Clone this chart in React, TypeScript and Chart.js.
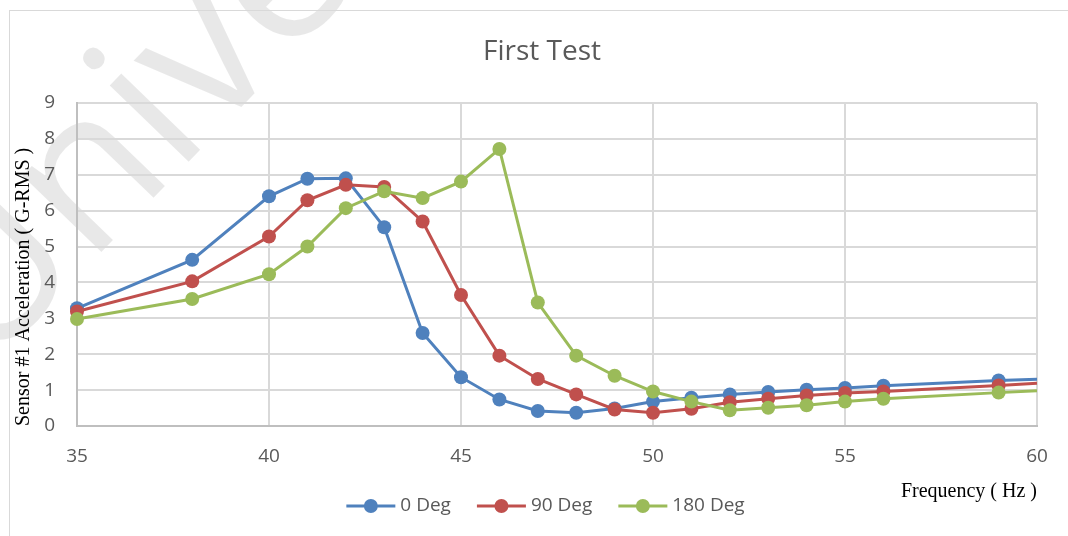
import React, { useEffect, useRef } from 'react';
import { Chart, registerables } from 'chart.js';

Chart.register(...registerables);

// Frequency sweep points (Hz)
const frequencies = [35, 38, 40, 41, 42, 43, 44, 45, 46, 47, 48, 49, 50, 51, 52, 53, 54, 55, 56, 59, 60];

// Sensor #1 acceleration (G-RMS) per mounting angle
const deg0 = [3.28, 4.63, 6.40, 6.89, 6.90, 5.54, 2.59, 1.36, 0.74, 0.42, 0.37, 0.49, 0.68, 0.79, 0.88, 0.95, 1.01, 1.06, 1.12, 1.27, 1.30];
const deg90 = [3.19, 4.03, 5.28, 6.29, 6.72, 6.66, 5.70, 3.65, 1.96, 1.31, 0.88, 0.46, 0.37, 0.48, 0.66, 0.76, 0.85, 0.92, 0.96, 1.13, 1.19];
const deg180 = [2.98, 3.54, 4.23, 5.00, 6.07, 6.54, 6.35, 6.81, 7.72, 3.44, 1.96, 1.40, 0.96, 0.68, 0.44, 0.51, 0.58, 0.68, 0.76, 0.93, 0.98];

const seriesNames = ['0 Deg', '90 Deg', '180 Deg'];
const seriesColors = ['#4f81bd', '#c0504d', '#9bbb59'];

const chartTitle = 'First Test';
const xAxisTitle = 'Frequency ( Hz )';
const yAxisTitle = 'Sensor #1 Acceleration ( G-RMS )';
const watermarkText = 'University';

const xMin = 35;
const xMax = 60;
const xStep = 5;
const yMin = 0;
const yMax = 9;
const yStep = 1;

const W = 1068;
const H = 536;
const GREY_TEXT = '#595959';
const SANS = '"Open Sans", "Noto Sans", sans-serif';
const SERIF = '"Liberation Serif", "DejaVu Serif", serif';

const decorations = {
  id: 'decorations',
  beforeDraw(chart: any) {
    const { ctx } = chart;
    ctx.save();
    ctx.fillStyle = '#ffffff';
    ctx.fillRect(0, 0, W, H);

    // faint diagonal watermark
    const F = 205;
    ctx.font = `${F}px ${SANS}`;
    const lead = ctx.measureText('Un').width + 0.13 * F;
    const th = (-46 * Math.PI) / 180;
    const ox = 195 - Math.cos(th) * lead;
    const oy = 155 - Math.sin(th) * lead;
    ctx.translate(ox, oy);
    ctx.rotate(th);
    ctx.fillStyle = 'rgba(0,0,0,0.09)';
    ctx.textBaseline = 'alphabetic';
    ctx.fillText(watermarkText, 0, 0);
    ctx.restore();

    // outer chart frame
    ctx.save();
    ctx.strokeStyle = '#d9d9d9';
    ctx.lineWidth = 1;
    ctx.strokeRect(9.5, 10.5, W + 20, H + 20);
    ctx.restore();
  },
  afterDraw(chart: any) {
    const { ctx } = chart;
    ctx.save();
    // title
    ctx.fillStyle = GREY_TEXT;
    ctx.font = `28px ${SANS}`;
    ctx.textAlign = 'center';
    ctx.textBaseline = 'middle';
    ctx.fillText(chartTitle, 542, 52);

    // legend: line + marker, then label
    const lineLen = 49;
    const gapText = 5;
    const gapItem = 26;
    ctx.font = `19px ${SANS}`;
    const ds = chart.data.datasets;
    const widths = ds.map((d: any) => lineLen + gapText + ctx.measureText(d.label).width);
    const total = widths.reduce((a: number, b: number) => a + b, 0) + gapItem * (ds.length - 1);
    let x = 545.5 - total / 2;
    const y = 506;
    ds.forEach((d: any, i: number) => {
      ctx.strokeStyle = d.borderColor;
      ctx.lineWidth = 3;
      ctx.beginPath();
      ctx.moveTo(x, y);
      ctx.lineTo(x + lineLen, y);
      ctx.stroke();
      ctx.fillStyle = d.borderColor;
      ctx.beginPath();
      ctx.arc(x + lineLen / 2, y, 7, 0, Math.PI * 2);
      ctx.fill();
      ctx.fillStyle = GREY_TEXT;
      ctx.textAlign = 'left';
      ctx.textBaseline = 'middle';
      ctx.fillText(d.label, x + lineLen + gapText, y);
      x += widths[i] + gapItem;
    });
    ctx.restore();
  },
};

export default function App() {
  const ref = useRef<HTMLCanvasElement | null>(null);

  useEffect(() => {
    document.body.style.margin = '0';
    document.body.style.overflow = 'hidden';
    const canvas = ref.current;
    if (!canvas) return;
    const seriesValues = [deg0, deg90, deg180];
    const last = frequencies.length - 1;
    const datasets = seriesValues.map((vals, i) => ({
      label: seriesNames[i],
      data: frequencies.map((f, j) => ({ x: f, y: vals[j] })),
      borderColor: seriesColors[i],
      backgroundColor: seriesColors[i],
      borderWidth: 3,
      pointRadius: frequencies.map((_, j) => (j === last ? 0 : 7)),
      pointBorderWidth: 0,
      pointBackgroundColor: seriesColors[i],
      tension: 0,
      order: seriesNames.length - i,
      clip: false as any,
    }));

    const chart = new Chart(canvas, {
      type: 'line',
      data: { datasets },
      options: {
        animation: false,
        responsive: false,
        maintainAspectRatio: false,
        layout: { padding: { top: 103, right: 31, bottom: 26, left: 0 } },
        plugins: {
          legend: { display: false },
          title: { display: false },
          tooltip: { enabled: false },
        },
        scales: {
          x: {
            type: 'linear',
            min: xMin,
            max: xMax,
            ticks: {
              stepSize: xStep,
              color: GREY_TEXT,
              font: { family: SANS, size: 19 },
              padding: 19,
              maxRotation: 0,
            },
            grid: { color: '#d9d9d9', lineWidth: 2, drawTicks: false },
            border: { color: '#bfbfbf', width: 2 },
            title: {
              display: true,
              text: xAxisTitle,
              align: 'end',
              color: '#000000',
              font: { family: SERIF, size: 20 },
              padding: { top: 0, bottom: 6 },
            },
            afterFit(scale: any) {
              scale.height = 84;
            },
          },
          y: {
            type: 'linear',
            min: yMin,
            max: yMax,
            ticks: {
              stepSize: yStep,
              color: GREY_TEXT,
              font: { family: SANS, size: 19 },
              padding: 22,
            },
            grid: { color: '#d9d9d9', lineWidth: 2, drawTicks: false },
            border: { color: '#bfbfbf', width: 2 },
            title: {
              display: true,
              text: yAxisTitle,
              align: 'start',
              color: '#000000',
              font: { family: SERIF, size: 20 },
              padding: { top: 12, bottom: 0 },
            },
            afterFit(scale: any) {
              scale.width = 77;
            },
          },
        },
      },
      plugins: [decorations],
    });

    return () => chart.destroy();
  }, []);

  return <canvas ref={ref} width={W} height={H} style={{ display: 'block', width: W, height: H }} />;
}
